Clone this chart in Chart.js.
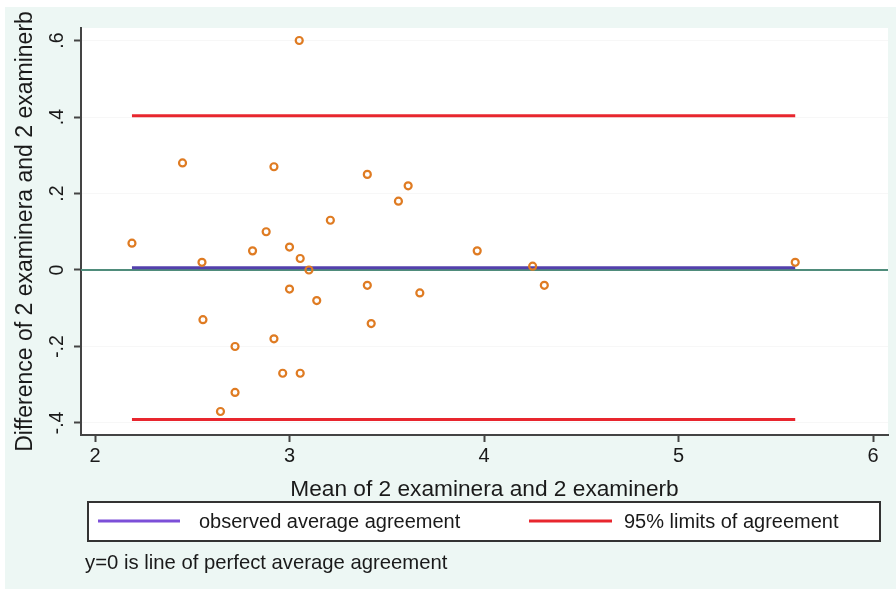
<!DOCTYPE html>
<html><head><meta charset="utf-8">
<script src="https://cdn.jsdelivr.net/npm/chart.js@4.4.1/dist/chart.umd.min.js"></script>
<style>html,body{margin:0;padding:0;background:#fff;}#wrap{width:896px;height:589px;position:relative}</style>
</head><body><div id="wrap"><canvas id="c" width="896" height="589"></canvas></div>
<script>
// ---- data ----
const meanX = [2.19, 2.45, 2.55, 2.81, 2.88, 2.92, 3.05, 3.00, 3.055, 3.10, 3.21, 3.40, 3.56, 3.61, 3.00,
               3.40, 3.67, 3.14, 2.555, 3.42, 2.92, 2.72, 2.965, 3.055, 2.72, 2.645, 3.965, 4.25, 4.31, 5.60];
const diffY = [0.07, 0.28, 0.02, 0.05, 0.10, 0.27, 0.60, 0.06, 0.03, 0.00, 0.13, 0.25, 0.18, 0.22, -0.05,
               -0.04, -0.06, -0.08, -0.13, -0.14, -0.18, -0.20, -0.27, -0.27, -0.32, -0.37, 0.05, 0.01, -0.04, 0.02];
const meanDiff = 0.006;
const upperLimit = 0.403;
const lowerLimit = -0.391;
const xTicks = [2, 3, 4, 5, 6];
const yTicks = [-0.4, -0.2, 0, 0.2, 0.4, 0.6];
const yTickLabels = ['-.4', '-.2', '0', '.2', '.4', '.6'];
const legendLabels = ['observed average agreement', '95% limits of agreement'];
const xTitle = 'Mean of 2 examinera and 2 examinerb';
const yTitle = 'Difference of 2 examinera and 2 examinerb';
const noteText = 'y=0 is line of perfect average agreement';

const X_MIN = 1.928, X_MAX = 6.077, Y_MIN = -0.4314, Y_MAX = 0.6327;
const FONT = '"Liberation Sans", Arial, Helvetica, sans-serif';
const C_MEAN = '#5340ac', C_LIMIT = '#e8262e', C_ZERO = '#4f8c7b', C_PT = '#df7b22';
const C_LEG_MEAN = '#7c4fd8', C_TEXT = '#1a1a1a';

const xLo = Math.min(...meanX), xHi = Math.max(...meanX);
const points = meanX.map((x, i) => ({x: x, y: diffY[i]}));
const hline = (y, a, b) => [{x: a, y: y}, {x: b, y: y}];

const bgPlugin = {
  id: 'bg',
  beforeDraw(chart) {
    const ctx = chart.ctx, a = chart.chartArea;
    ctx.save();
    ctx.fillStyle = '#ffffff';
    ctx.fillRect(0, 0, chart.width, chart.height);
    ctx.fillStyle = '#edf7f4';
    ctx.fillRect(5, 7, 891, 582);
    ctx.fillStyle = '#ffffff';
    ctx.fillRect(a.left, a.top, a.right - a.left, a.bottom - a.top);
    ctx.restore();
  },
  afterDraw(chart) {
    const ctx = chart.ctx, ys = chart.scales.y;
    ctx.save();
    // rotated y tick labels
    ctx.fillStyle = C_TEXT;
    ctx.font = '19.5px ' + FONT;
    ctx.textAlign = 'center';
    ctx.textBaseline = 'alphabetic';
    yTicks.forEach((v, i) => {
      const py = ys.getPixelForValue(v);
      ctx.save();
      ctx.translate(63, py);
      ctx.rotate(-Math.PI / 2);
      ctx.fillText(yTickLabels[i], 0, 0);
      ctx.restore();
    });
    // legend box
    ctx.strokeStyle = '#333';
    ctx.lineWidth = 2;
    ctx.fillStyle = '#ffffff';
    ctx.fillRect(88, 502, 792, 39);
    ctx.strokeRect(88, 502, 792, 39);
    const ly = 521;
    ctx.lineWidth = 3;
    ctx.strokeStyle = C_LEG_MEAN;
    ctx.beginPath(); ctx.moveTo(98, ly); ctx.lineTo(180, ly); ctx.stroke();
    ctx.strokeStyle = C_LIMIT;
    ctx.beginPath(); ctx.moveTo(529, ly); ctx.lineTo(612, ly); ctx.stroke();
    ctx.fillStyle = C_TEXT;
    ctx.font = '20px ' + FONT;
    ctx.textAlign = 'left';
    ctx.textBaseline = 'middle';
    ctx.fillText(legendLabels[0], 199, ly + 1);
    ctx.fillText(legendLabels[1], 624, ly + 1);
    // note
    ctx.font = '20.3px ' + FONT;
    ctx.fillText(noteText, 85, 563);
    ctx.restore();
  }
};

new Chart(document.getElementById('c'), {
  data: {
    datasets: [
      {type: 'scatter', label: 'data', data: points, order: 0,
       pointStyle: 'circle', pointRadius: 3.5, pointHoverRadius: 3.5, borderWidth: 2.2,
       borderColor: C_PT, backgroundColor: 'rgba(0,0,0,0)'},
      {type: 'line', label: legendLabels[1], data: hline(upperLimit, xLo, xHi), order: 1,
       borderColor: C_LIMIT, borderWidth: 3, pointRadius: 0, fill: false},
      {type: 'line', label: legendLabels[1] + ' (lower)', data: hline(lowerLimit, xLo, xHi), order: 1,
       borderColor: C_LIMIT, borderWidth: 3, pointRadius: 0, fill: false},
      {type: 'line', label: legendLabels[0], data: hline(meanDiff, xLo, xHi), order: 2,
       borderColor: C_MEAN, borderWidth: 3, pointRadius: 0, fill: false},
      {type: 'line', label: 'zero', data: hline(0, X_MIN, X_MAX), order: 3,
       borderColor: C_ZERO, borderWidth: 2, pointRadius: 0, fill: false}
    ]
  },
  options: {
    responsive: false,
    animation: false,
    events: [],
    layout: {padding: {top: 28, right: 8, left: 0, bottom: 84}},
    plugins: {legend: {display: false}, tooltip: {enabled: false}},
    scales: {
      x: {
        type: 'linear', position: 'bottom', min: X_MIN, max: X_MAX,
        afterBuildTicks: s => { s.ticks = xTicks.map(v => ({value: v})); },
        afterFit: s => { s.height = 70; },
        ticks: {font: {size: 20, family: FONT}, color: C_TEXT, padding: 2, callback: v => String(v)},
        grid: {drawOnChartArea: false, drawTicks: true, tickLength: 7, tickColor: '#444', tickWidth: 2},
        border: {display: true, color: '#444', width: 2},
        title: {display: true, text: xTitle, color: C_TEXT, font: {size: 22.7, family: FONT}, padding: {top: 0, bottom: 2}}
      },
      y: {
        type: 'linear', position: 'left', min: Y_MIN, max: Y_MAX,
        afterBuildTicks: s => { s.ticks = yTicks.map(v => ({value: v})); },
        afterFit: s => { s.width = 81; },
        ticks: {display: false},
        grid: {drawOnChartArea: true, color: 'rgba(0,0,0,0.03)', lineWidth: 1, drawTicks: true, tickLength: 7, tickColor: '#444', tickWidth: 2},
        border: {display: true, color: '#444', width: 2},
        title: {display: true, text: yTitle, color: C_TEXT, font: {size: 23, family: FONT}, padding: {top: 12, bottom: 0}}
      }
    }
  },
  plugins: [bgPlugin]
});
</script></body></html>
